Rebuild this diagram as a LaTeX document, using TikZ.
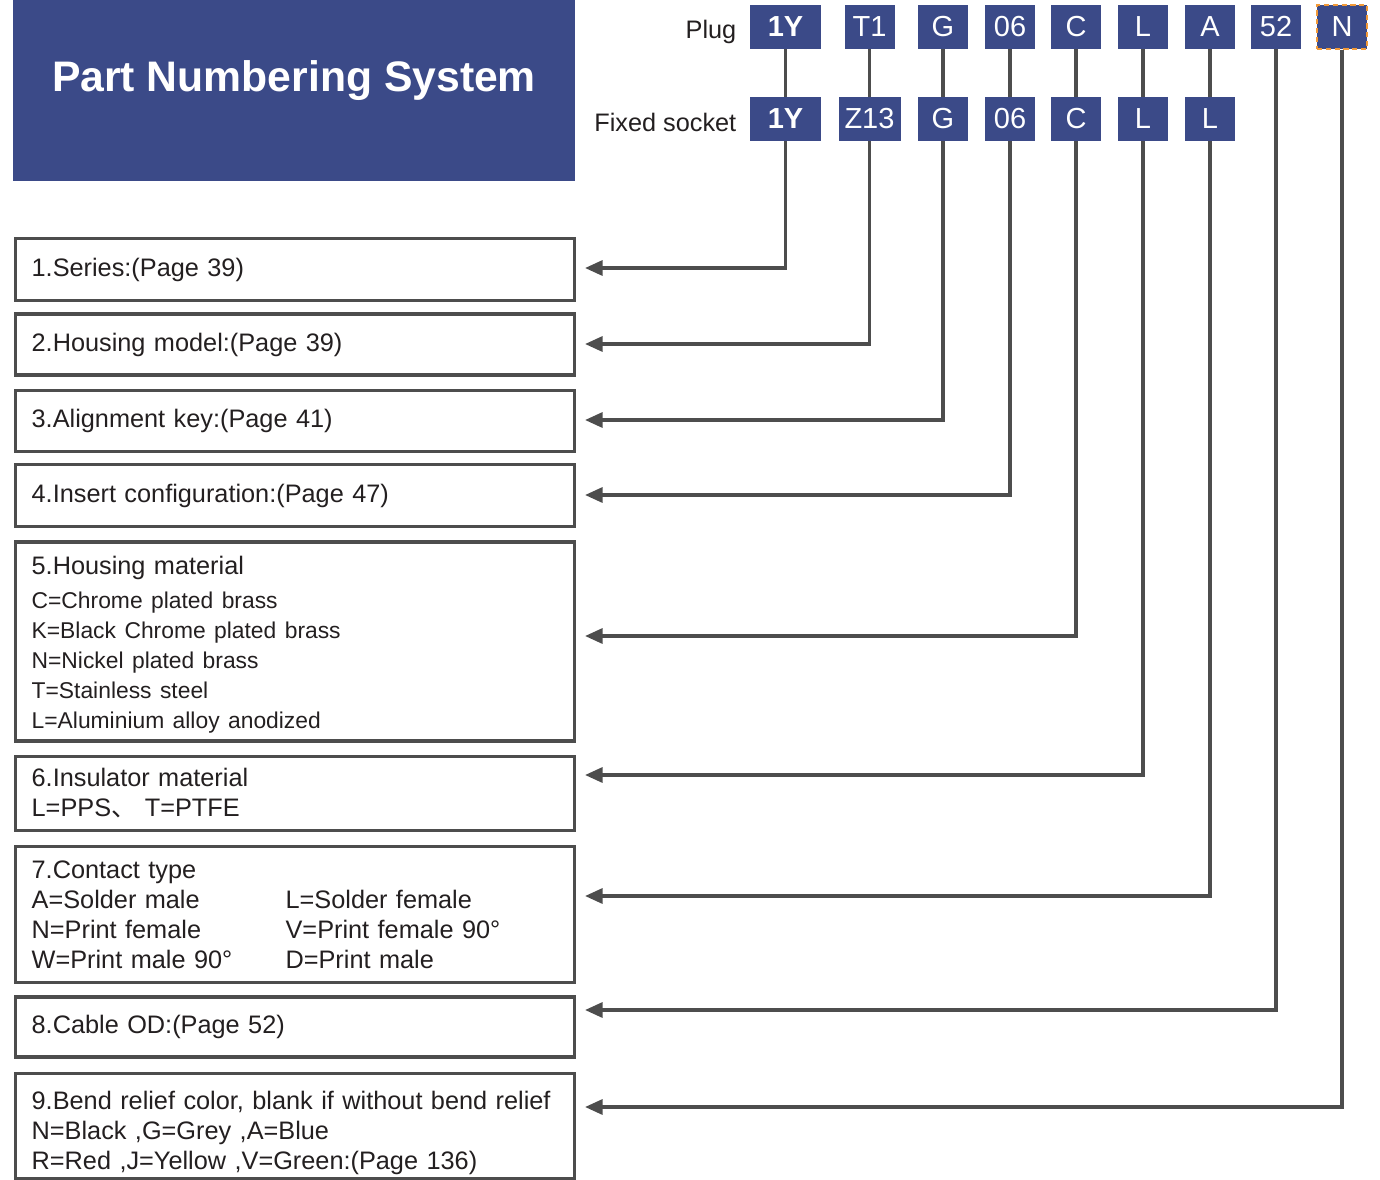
\documentclass[tikz,border=0pt]{standalone}
\usepackage{fontspec}
\setmainfont{Liberation Sans}
\newfontfamily\cjkfont{Noto Sans CJK SC}
\usetikzlibrary{positioning,arrows.meta}
\definecolor{pnsblue}{HTML}{3B4A88}
\definecolor{pnsgrey}{HTML}{4D4D4D}
\definecolor{pnsorange}{HTML}{F29A38}
\definecolor{pnstext}{HTML}{231F20}
\tikzstyle{code} = [fill=pnsblue, text=white, minimum height=0.88cm, minimum width=1cm, inner sep=0pt, font=\fontsize{16.5}{18}\selectfont]
\tikzstyle{desc} = [draw=pnsgrey, line width=1.9pt, text width=10.54cm, inner xsep=0.32cm, inner ysep=0pt, align=left, text=pnstext, font=\fontsize{14.4}{17}\selectfont]
\tikzstyle{wire} = [draw=pnsgrey, line width=1.9pt]
\tikzstyle{arrow} = [wire, -{Triangle[length=10pt,width=8.5pt]}]

\begin{document}
\begin{tikzpicture}[x=0.02cm, y=-0.02cm]
	\useasboundingbox (0,0) rectangle (1380,1180);
	% title block
	\node (titlebox) [fill=pnsblue, minimum width=11.24cm, minimum height=3.62cm, inner sep=0pt, anchor=north west] at (13,0) {};
	\node (title) [text=white, font=\bfseries\fontsize{24.3}{28}\selectfont] at (294,81) {Part Numbering System};
	% plug code
	\node (p1) [code, minimum width=1.42cm, font=\bfseries\fontsize{16.5}{18}\selectfont] at (785.5,27) {1Y};
	\node (p2) [code] at (869.5,27) {T1};
	\node (p3) [code] at (943,27) {G};
	\node (p4) [code] at (1010,27) {06};
	\node (p5) [code] at (1076,27) {C};
	\node (p6) [code] at (1143,27) {L};
	\node (p7) [code] at (1210,27) {A};
	\node (p8) [code] at (1276,27) {52};
	\node (p9) [code, draw=pnsorange, line width=1.2pt, dash pattern=on 3pt off 2pt] at (1342,27) {N};
	\node (plug) [left=0.26cm of p1, yshift=-0.09cm, inner sep=0pt, text=pnstext, font=\fontsize{14.4}{17}\selectfont] {Plug};
	% socket code
	\node (s1) [code, minimum width=1.42cm, font=\bfseries\fontsize{16.5}{18}\selectfont] at (785.5,119) {1Y};
	\node (s2) [code, minimum width=1.24cm] at (869.5,119) {Z13};
	\node (s3) [code] at (943,119) {G};
	\node (s4) [code] at (1010,119) {06};
	\node (s5) [code] at (1076,119) {C};
	\node (s6) [code] at (1143,119) {L};
	\node (s7) [code] at (1210,119) {L};
	\node (socket) [left=0.26cm of s1, yshift=-0.06cm, inner sep=0pt, text=pnstext, font=\fontsize{14.4}{17}\selectfont] {Fixed socket};
	% description boxes
	\node (d1) [desc, minimum height=1.24cm, anchor=north west] at (14,237) {1.Series:(Page 39)};
	\node (d2) [desc, minimum height=1.22cm, below=0.2cm of d1] {2.Housing model:(Page 39)};
	\node (d3) [desc, minimum height=1.22cm, below=0.24cm of d2] {3.Alignment key:(Page 41)};
	\node (d4) [desc, minimum height=1.24cm, below=0.2cm of d3] {4.Insert configuration:(Page 47)};
	\node (d5) [desc, minimum height=3.98cm, below=0.24cm of d4] {\rule{0pt}{14pt}5.Housing material\\[2.5pt]
		{\fontsize{13}{16.7}\selectfont C=Chrome plated brass}\\
		{\fontsize{13}{16.7}\selectfont K=Black Chrome plated brass}\\
		{\fontsize{13}{16.7}\selectfont N=Nickel plated brass}\\
		{\fontsize{13}{16.7}\selectfont T=Stainless steel}\\
		{\fontsize{13}{16.7}\selectfont L=Aluminium alloy anodized}};
	\node (d6) [desc, minimum height=1.48cm, below=0.24cm of d5] {6.Insulator material\\L=PPS{\cjkfont 、} T=PTFE};
	\node (d7) [desc, minimum height=2.72cm, below=0.26cm of d6] {7.Contact type\\
		\makebox[5.08cm][l]{A=Solder male}L=Solder female\\
		\makebox[5.08cm][l]{N=Print female}V=Print female 90°\\
		\makebox[5.08cm][l]{W=Print male 90°}D=Print male};
	\node (d8) [desc, minimum height=1.2cm, below=0.22cm of d7] {8.Cable OD:(Page 52)};
	\node (d9) [desc, minimum height=2.1cm, below=0.26cm of d8] {\rule{0pt}{19pt}9.Bend relief color, blank if without bend relief\\N=Black ,G=Grey ,A=Blue\\R=Red ,J=Yellow ,V=Green:(Page 136)};
	% arrow ends
	\coordinate (a1) at (585,268);
	\coordinate (a2) at (585,344);
	\coordinate (a3) at (585,420);
	\coordinate (a4) at (585,495);
	\coordinate (a5) at (585,636);
	\coordinate (a6) at (585,775);
	\coordinate (a7) at (585,896);
	\coordinate (a8) at (585,1010);
	\coordinate (a9) at (585,1107);
	% connectors
	\draw[wire] (p1) -- (s1);
	\draw[wire] (p2) -- (s2);
	\draw[wire] (p3) -- (s3);
	\draw[wire] (p4) -- (s4);
	\draw[wire] (p5) -- (s5);
	\draw[wire] (p6) -- (s6);
	\draw[wire] (p7) -- (s7);
	\draw[arrow] (s1) |- (a1);
	\draw[arrow] (s2) |- (a2);
	\draw[arrow] (s3) |- (a3);
	\draw[arrow] (s4) |- (a4);
	\draw[arrow] (s5) |- (a5);
	\draw[arrow] (s6) |- (a6);
	\draw[arrow] (s7) |- (a7);
	\draw[arrow] (p8) |- (a8);
	\draw[arrow] (p9) |- (a9);
\end{tikzpicture}
\end{document}
